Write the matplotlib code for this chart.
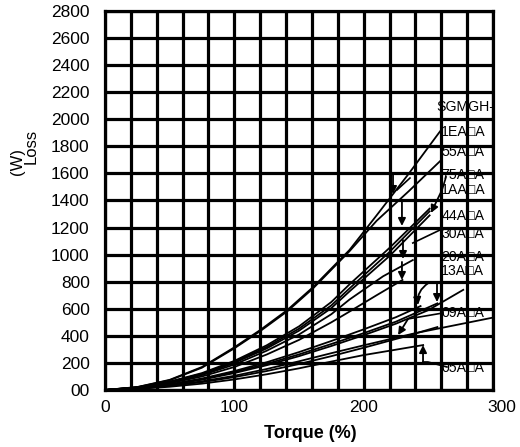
import numpy as np
import matplotlib.pyplot as plt
import matplotlib.transforms as mtrans

plt.rcParams['font.family'] = ['Liberation Sans', 'DejaVu Sans']

# torque (%) / loss (W)
x_1EA = [0, 25, 50, 75, 100, 120, 141, 161, 189, 210, 235, 259]
y_1EA = [0, 22, 75, 170, 315, 443, 591, 761, 1034, 1290, 1600, 1910]
x_55A = [0, 25, 50, 75, 100, 120, 141, 161, 189, 210, 235, 259]
y_55A = [0, 21, 72, 165, 308, 435, 582, 752, 1025, 1250, 1470, 1690]
x_75A = [0, 25, 50, 75, 100, 125, 150, 175, 189, 220, 251]
y_75A = [0, 20, 62, 125, 215, 330, 470, 650, 780, 1050, 1340]
x_1AA = [0, 25, 50, 75, 100, 125, 150, 175, 189, 220, 251]
y_1AA = [0, 19, 60, 120, 207, 318, 453, 625, 750, 1020, 1320]
x_44A = [0, 25, 50, 75, 100, 125, 150, 175, 189, 220, 251]
y_44A = [0, 18, 58, 116, 200, 307, 438, 605, 728, 990, 1290]
x_30A = [0, 25, 50, 75, 100, 125, 150, 175, 189, 215, 238]
y_30A = [0, 17, 55, 110, 188, 290, 410, 560, 668, 840, 960]
x_30B = [0, 25, 50, 75, 100, 125, 150, 175, 189, 210, 230]
y_30B = [0, 16, 50, 100, 170, 262, 370, 500, 579, 700, 813]
x_20A = [0, 25, 50, 75, 100, 125, 150, 175, 200, 225, 244]
y_20A = [0, 14, 42, 85, 140, 205, 280, 362, 448, 538, 620]
x_13A = [0, 25, 50, 75, 100, 125, 150, 175, 200, 225, 257]
y_13A = [0, 13, 40, 80, 132, 193, 263, 340, 420, 505, 640]
x_13B = [0, 25, 50, 75, 100, 125, 150, 175, 200, 225, 250, 277]
y_13B = [0, 13, 38, 76, 125, 183, 250, 325, 405, 490, 590, 740]
x_09A = [0, 25, 50, 75, 100, 125, 150, 175, 200, 240, 300]
y_09A = [0, 11, 33, 64, 105, 155, 212, 272, 330, 420, 535]
x_09B = [0, 25, 50, 75, 100, 125, 150, 175, 200, 230, 257]
y_09B = [0, 10, 30, 58, 95, 140, 192, 250, 312, 390, 465]
x_05A = [0, 25, 50, 75, 100, 125, 150, 175, 200, 225, 246]
y_05A = [0, 8, 24, 47, 78, 116, 160, 210, 258, 298, 332]

curves = [(x_1EA, y_1EA), (x_55A, y_55A), (x_75A, y_75A), (x_1AA, y_1AA),
          (x_44A, y_44A), (x_30A, y_30A), (x_30B, y_30B), (x_20A, y_20A),
          (x_13A, y_13A), (x_13B, y_13B), (x_09A, y_09A), (x_09B, y_09B),
          (x_05A, y_05A)]

# model labels at the right edge
labels = ['SGMGH-', '1EA\u25a1A', '55A\u25a1A', '75A\u25a1A', '1AA\u25a1A', '44A\u25a1A',
          '30A\u25a1A', '20A\u25a1A', '13A\u25a1A', '09A\u25a1A', '05A\u25a1A']
label_y = [2094, 1909, 1760, 1585, 1478, 1285, 1151, 980, 876, 572, 163]

# arrows (tail -> head)
arrow_tail = [(222.7, 1603), (229.6, 1404), (260.6, 1478), (230.4, 1108),
              (229.6, 946), (256.7, 798), (234.3, 525), (245.9, 207)]
arrow_head = [(222.7, 1448), (229.6, 1212), (252, 1308), (230.4, 968),
              (229.6, 813), (256.7, 650), (226.6, 406), (245.9, 332)]

# leader lines from the labels
leaders = [([235.8, 225.8], [1566, 1478]),
           ([263.7, 260.6], [1574, 1478]),
           ([259, 238], [1182, 1086]),
           ([261.3, 234.3], [569, 525]),
           ([264.4, 249.7, 245.9], [170, 207, 207])]

fig = plt.figure(figsize=(5.2, 4.47), dpi=100)
ax = fig.add_axes([105/520, 57/447, 388/520, 379/447])

for xs, ys in curves:
    ax.plot(xs, ys, color='black', lw=1.3, zorder=3)

for (tx, ty), (hx, hy) in zip(arrow_tail, arrow_head):
    ax.annotate('', xy=(hx, hy), xytext=(tx, ty),
                arrowprops=dict(arrowstyle='-|>', color='black', lw=1.3,
                                mutation_scale=11, shrinkA=0, shrinkB=0),
                zorder=4)
# curved one for 20A
ax.annotate('', xy=(242, 628), xytext=(250, 790),
            arrowprops=dict(arrowstyle='-|>', color='black', lw=1.3, mutation_scale=11,
                            shrinkA=0, shrinkB=0, connectionstyle='arc3,rad=0.3'))

for lx, ly in leaders:
    ax.plot(lx, ly, color='black', lw=1.2)

for lab, ly in zip(labels, label_y):
    ax.text(256.5 if lab == 'SGMGH-' else 260, ly, lab, fontsize=10.2,
            va='center', ha='left', zorder=5)

ax.set_xlim(0, 300)
ax.set_ylim(0, 2800)
ax.set_xticks([0, 100, 200, 300], labels=['0', '100', '200', '300'])
ax.set_xticks(np.arange(0, 301, 20), minor=True)
ax.set_yticks(np.arange(0, 2801, 200))
ax.set_yticklabels(['00'] + [str(v) for v in range(200, 2801, 200)])
ax.grid(True, which='both', color='black', lw=2.3)
ax.tick_params(which='both', length=0, labelsize=12.5)
ax.tick_params(axis='y', pad=11)
ax.tick_params(axis='x', pad=7)
# the "300" sits a bit right of its gridline in the original
last = ax.get_xticklabels()[-1]
last.set_transform(last.get_transform() + mtrans.ScaledTranslation(0.09, 0, fig.dpi_scale_trans))
for s in ax.spines.values():
    s.set_linewidth(2.3)

fig.text(310/520, 1 - 434/447, 'Torque (%)', fontsize=13, fontweight='bold',
         ha='center', va='center')
fig.text(31/520, 1 - 146/447, 'Loss', rotation=90, fontsize=12, ha='center', va='center')
fig.text(17/520, 1 - 162/447, '(W)', rotation=90, fontsize=12, ha='center', va='center')

fig.savefig('out.png', dpi=100)
